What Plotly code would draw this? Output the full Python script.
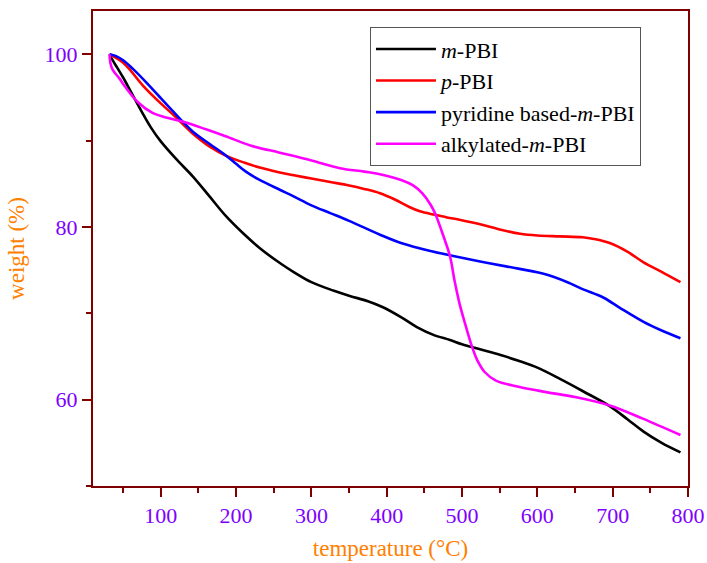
import plotly.graph_objects as go

# Temperature (°C) and weight (%)
m_pbi_x = [32, 36, 41, 50, 60, 75, 87, 100, 120, 143, 165, 186, 210, 232, 260, 276, 300, 330, 351, 375, 395, 420, 440, 462, 484, 500, 525, 550, 575, 600, 630, 660, 697, 720, 741, 765, 790]
m_pbi_y = [100, 99.3, 98.6, 97.3, 95.7, 93.3, 91.5, 89.9, 87.9, 85.8, 83.5, 81.3, 79.2, 77.5, 75.7, 74.8, 73.6, 72.6, 72.0, 71.4, 70.7, 69.5, 68.4, 67.5, 66.9, 66.4, 65.8, 65.2, 64.5, 63.7, 62.4, 61.0, 59.2, 57.7, 56.3, 55.0, 53.9]

p_pbi_x = [32, 40, 50, 60, 76, 100, 120, 140, 165, 190, 209, 230, 258, 275, 300, 325, 350, 370, 391, 410, 430, 444, 464, 480, 498, 524, 550, 577, 600, 630, 660, 675, 697, 720, 741, 765, 790]
p_pbi_y = [100, 99.6, 99.0, 98.1, 96.4, 94.3, 92.7, 91.0, 89.3, 88.1, 87.5, 86.9, 86.3, 86.0, 85.6, 85.2, 84.8, 84.4, 83.9, 83.2, 82.3, 81.8, 81.4, 81.1, 80.8, 80.3, 79.7, 79.2, 79.0, 78.9, 78.8, 78.6, 78.1, 77.1, 75.9, 74.8, 73.6]

pyr_x = [32, 40, 50, 63, 80, 98, 115, 129, 143, 165, 186, 200, 213, 230, 258, 275, 300, 325, 350, 391, 420, 458, 490, 524, 560, 607, 640, 660, 688, 710, 741, 765, 790]
pyr_y = [100, 99.8, 99.3, 98.3, 96.8, 95.1, 93.5, 92.2, 91.0, 89.6, 88.3, 87.3, 86.4, 85.5, 84.3, 83.6, 82.5, 81.6, 80.7, 79.1, 78.1, 77.2, 76.6, 76.0, 75.4, 74.6, 73.6, 72.8, 71.8, 70.6, 69.0, 68.0, 67.1]

alk_x = [32, 33, 36, 45, 53, 70, 89, 110, 129, 160, 186, 220, 258, 300, 338, 370, 391, 420, 435, 447, 458, 464, 475, 484, 490, 497, 505, 513, 520, 530, 545, 575, 610, 650, 697, 740, 790]
alk_y = [100, 99.0, 98.2, 97.2, 96.2, 94.4, 93.2, 92.6, 92.2, 91.3, 90.5, 89.4, 88.6, 87.7, 86.8, 86.4, 86.1, 85.4, 84.8, 83.9, 82.6, 81.6, 79.0, 76.6, 73.8, 71.0, 68.5, 66.2, 64.6, 63.2, 62.2, 61.5, 60.9, 60.3, 59.3, 57.8, 55.9]

series = [
    ("<i>m</i>-PBI", m_pbi_x, m_pbi_y, "#000000"),
    ("<i>p</i>-PBI", p_pbi_x, p_pbi_y, "#ff0000"),
    ("pyridine based-<i>m</i>-PBI", pyr_x, pyr_y, "#0000ff"),
    ("alkylated-<i>m</i>-PBI", alk_x, alk_y, "#ff00ff"),
]

x_tickvals = [100, 200, 300, 400, 500, 600, 700, 800]
y_tickvals = [60, 80, 100]

FONT = "Liberation Serif, Times New Roman, serif"
AXC = "#800000"
TICKC = "#8000ff"
TITC = "#ff8000"

fig = go.Figure()
for name, xs, ys, col in series:
    fig.add_trace(go.Scatter(x=xs, y=ys, mode="lines", name=name,
                             line=dict(color=col, width=2.6, shape="spline", smoothing=1.0)))

fig.update_layout(
    width=707, height=563,
    margin=dict(l=93, r=19, t=11, b=77, autoexpand=False),
    plot_bgcolor="white", paper_bgcolor="white",
    font=dict(family=FONT, size=22, color="black"),
    showlegend=True,
    legend=dict(x=0.4655, y=0.966, xanchor="left", yanchor="top",
                bgcolor="white", bordercolor="#555555", borderwidth=1,
                font=dict(family=FONT, size=22, color="black"),
                tracegroupgap=0, itemwidth=60),
)
fig.update_xaxes(
    range=[10, 800], tickvals=x_tickvals, automargin=False,
    showgrid=False, zeroline=False,
    showline=True, linecolor=AXC, linewidth=2, mirror=True,
    ticks="outside", ticklen=9, tickwidth=2, tickcolor=AXC,
    minor=dict(dtick=50, tick0=0, ticks="outside", ticklen=5, tickwidth=2, tickcolor=AXC),
    tickfont=dict(family=FONT, size=22, color=TICKC),
    title=dict(text="temperature (°C)", font=dict(family=FONT, size=23, color=TITC), standoff=12),
)
fig.update_yaxes(
    range=[50, 105], tickvals=y_tickvals, automargin=False,
    showgrid=False, zeroline=False,
    showline=True, linecolor=AXC, linewidth=2, mirror=True,
    ticks="outside", ticklen=9, tickwidth=2, tickcolor=AXC,
    minor=dict(dtick=10, tick0=0, ticks="outside", ticklen=5, tickwidth=2, tickcolor=AXC),
    tickfont=dict(family=FONT, size=22, color=TICKC),
    title=dict(text="weight (%)", font=dict(family=FONT, size=23, color=TITC), standoff=14),
)

fig.write_html("out.html", config={"displayModeBar": False},
               post_script="document.body.style.margin='0px';")
